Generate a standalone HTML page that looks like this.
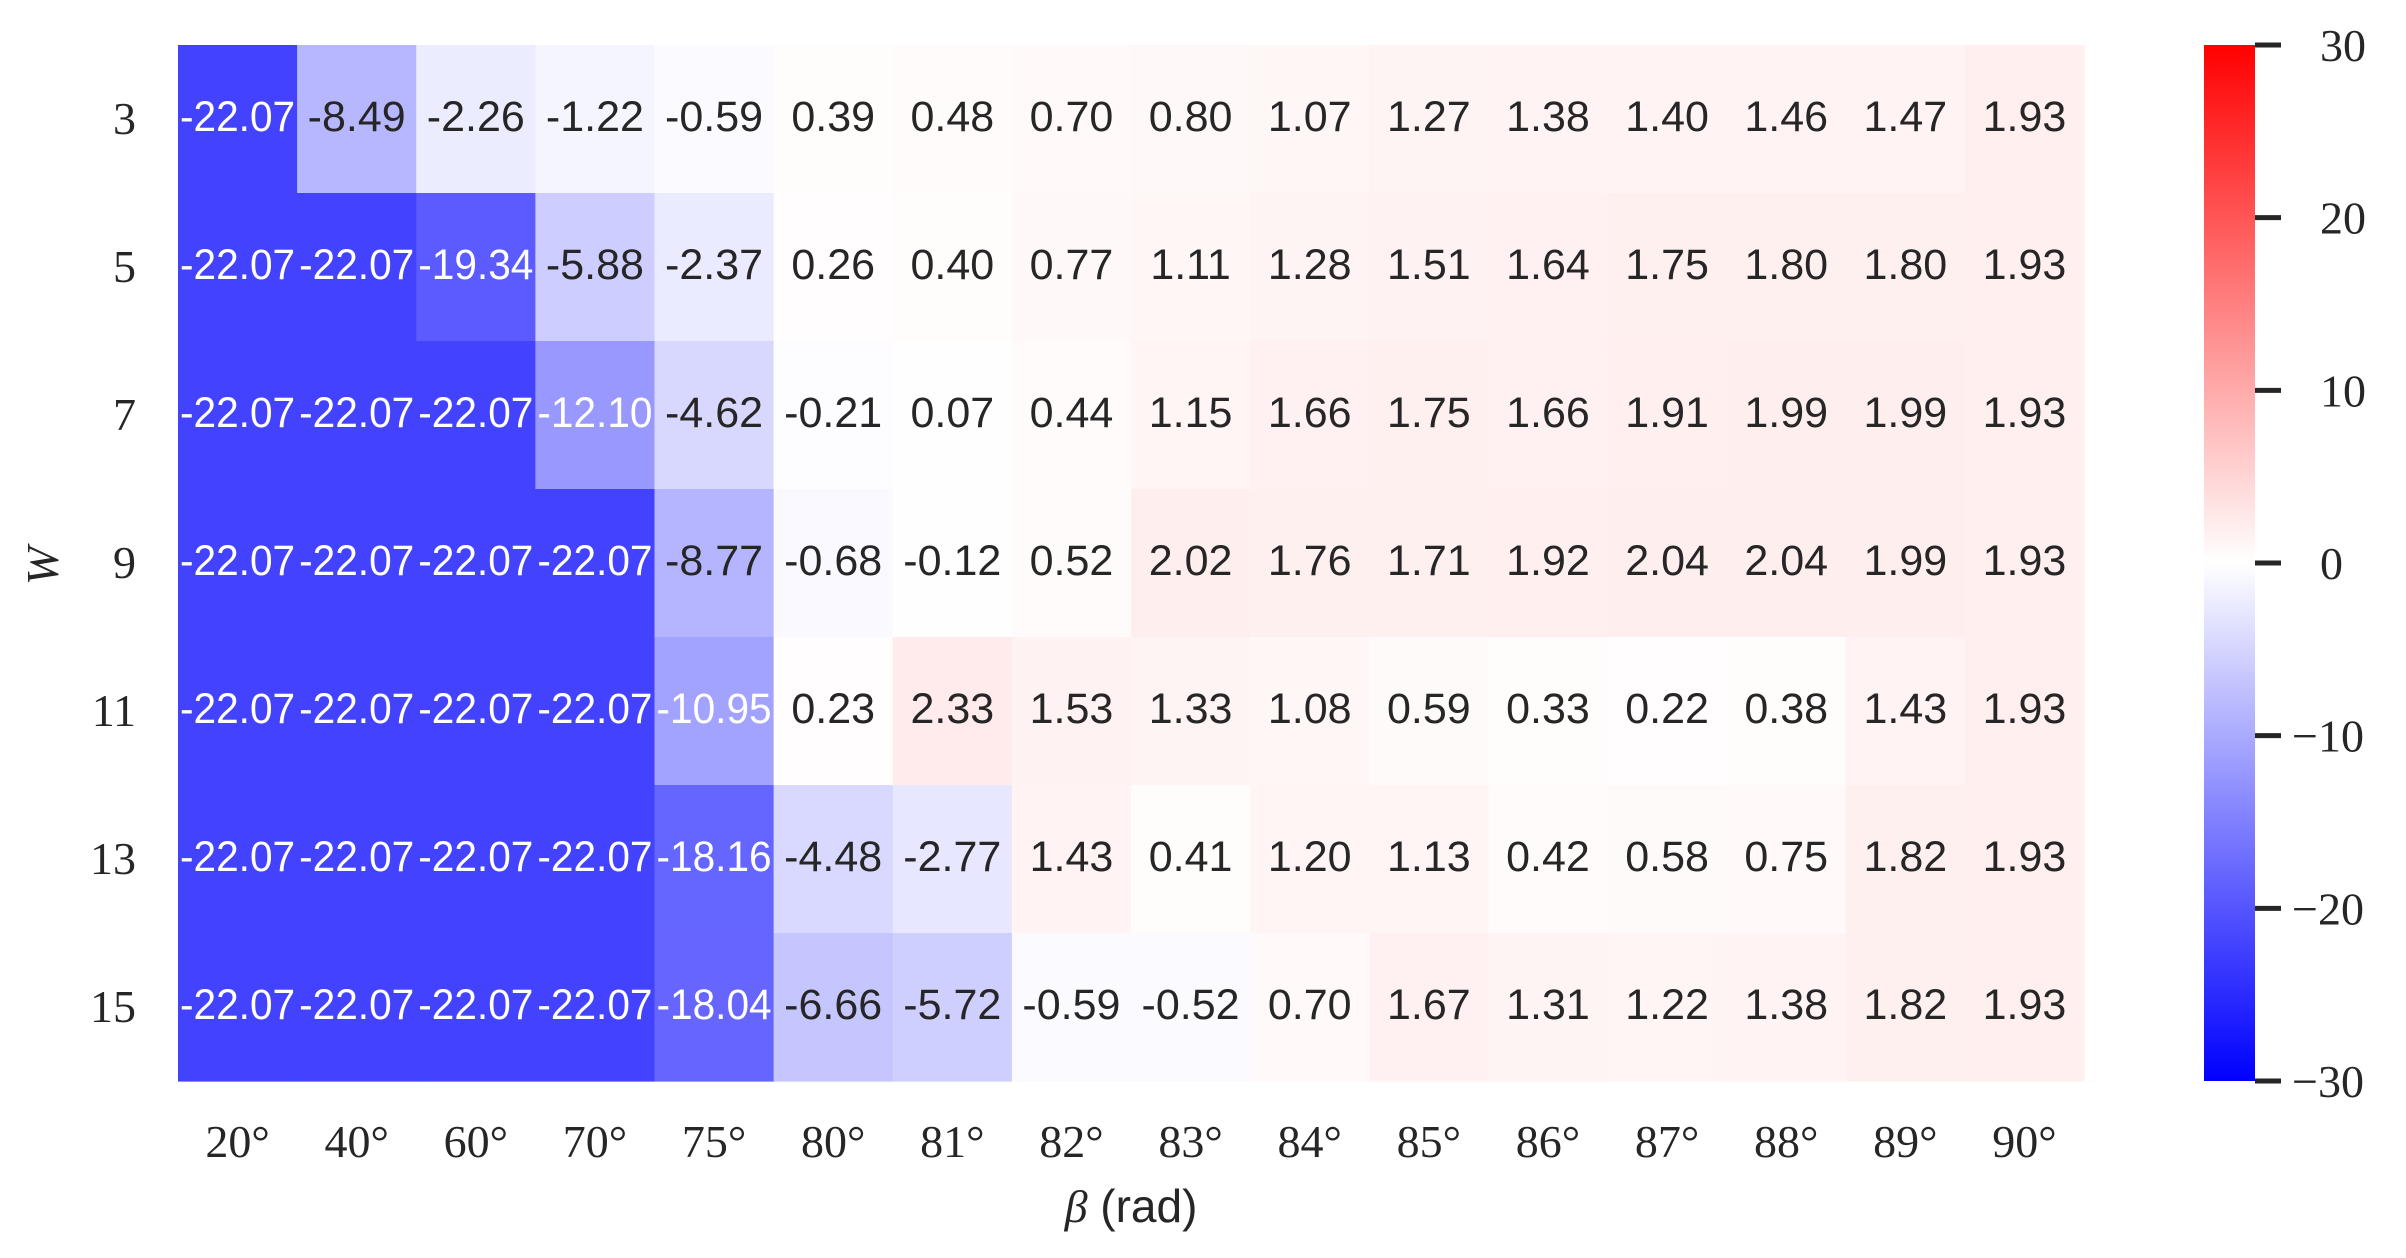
<!DOCTYPE html>
<html><head><meta charset="utf-8"><style>
html,body{margin:0;padding:0;background:#fff;}
svg{display:block;}
.v{font-family:"Liberation Sans",sans-serif;font-size:43px;}
.t{font-family:"Liberation Serif",serif;font-size:46px;fill:#262626;}
</style></head><body>
<svg id="chart" width="2406" height="1258" viewBox="0 0 2406 1258" xmlns="http://www.w3.org/2000/svg">
<defs><linearGradient id="cb" x1="0" y1="1" x2="0" y2="0">
<stop offset="0" stop-color="#0000ff"/><stop offset="0.5" stop-color="#ffffff"/><stop offset="1" stop-color="#ff0000"/>
</linearGradient></defs>
<g id="cells"></g>
<g id="labels"></g>
<rect x="2204" y="45" width="51" height="1036" fill="url(#cb)"/>
<g id="cbticks"></g>
<text x="58" y="566" class="t" font-style="italic" text-anchor="middle" transform="rotate(-90 58 566)">W</text>
<text x="1131" y="1222" class="t" text-anchor="middle"><tspan font-style="italic">β</tspan><tspan font-family="Liberation Sans, sans-serif"> (rad)</tspan></text>
</svg>
<script>
const xCats=["20°","40°","60°","70°","75°","80°","81°","82°","83°","84°","85°","86°","87°","88°","89°","90°"];
const yCats=["3","5","7","9","11","13","15"];
const row3=[-22.07,-8.49,-2.26,-1.22,-0.59,0.39,0.48,0.70,0.80,1.07,1.27,1.38,1.40,1.46,1.47,1.93];
const row5=[-22.07,-22.07,-19.34,-5.88,-2.37,0.26,0.40,0.77,1.11,1.28,1.51,1.64,1.75,1.80,1.80,1.93];
const row7=[-22.07,-22.07,-22.07,-12.10,-4.62,-0.21,0.07,0.44,1.15,1.66,1.75,1.66,1.91,1.99,1.99,1.93];
const row9=[-22.07,-22.07,-22.07,-22.07,-8.77,-0.68,-0.12,0.52,2.02,1.76,1.71,1.92,2.04,2.04,1.99,1.93];
const row11=[-22.07,-22.07,-22.07,-22.07,-10.95,0.23,2.33,1.53,1.33,1.08,0.59,0.33,0.22,0.38,1.43,1.93];
const row13=[-22.07,-22.07,-22.07,-22.07,-18.16,-4.48,-2.77,1.43,0.41,1.20,1.13,0.42,0.58,0.75,1.82,1.93];
const row15=[-22.07,-22.07,-22.07,-22.07,-18.04,-6.66,-5.72,-0.59,-0.52,0.70,1.67,1.31,1.22,1.38,1.82,1.93];
const rows=[row3,row5,row7,row9,row11,row13,row15];
const cbTicks=[30,20,10,0,-10,-20,-30];
const vmin=-30,vmax=30;
const X0=178,X1=2084,Y0=45,Y1=1081;
const cw=(X1-X0)/xCats.length, ch=(Y1-Y0)/yCats.length;
const xPos=i=>X0+i*cw, yPos=j=>Y0+j*ch;
const cbY=v=>Y1-(v-vmin)/(vmax-vmin)*(Y1-Y0);
function color(v){
  let t=(v-vmin)/(vmax-vmin); t=Math.max(0,Math.min(1,t));
  let r,g,b;
  if(t<0.5){const a=t/0.5;r=a;g=a;b=1;}else{const a=2*(1-t);r=1;g=a;b=a;}
  return `rgb(${Math.round(r*255)},${Math.round(g*255)},${Math.round(b*255)})`;
}
const NS="http://www.w3.org/2000/svg";
const cells=document.getElementById('cells'),labels=document.getElementById('labels'),cbt=document.getElementById('cbticks');
rows.forEach((row,j)=>{
  row.forEach((v,i)=>{
    const r=document.createElementNS(NS,'rect');
    r.setAttribute('x',xPos(i));r.setAttribute('y',yPos(j));
    r.setAttribute('width',cw+0.6);r.setAttribute('height',ch+0.6);
    r.setAttribute('fill',color(v));
    
    
    cells.appendChild(r);
    const t=document.createElementNS(NS,'text');
    t.setAttribute('x',xPos(i)+cw/2);t.setAttribute('y',yPos(j)+ch/2+12);
    t.setAttribute('text-anchor','middle');t.setAttribute('class','v');
    const tt=(v-vmin)/(vmax-vmin);
    t.setAttribute('fill',(tt<0.33||tt>0.7)?'#ffffff':'#262626');
    t.textContent=v.toFixed(2);
    if(t.textContent.length>=6){t.setAttribute('textLength',cw-4);t.setAttribute('lengthAdjust','spacingAndGlyphs');}
    
    
    cells.appendChild(t);
  });
});
yCats.forEach((c,j)=>{
  const t=document.createElementNS(NS,'text');
  t.setAttribute('x',136);t.setAttribute('y',yPos(j)+ch/2+15);
  t.setAttribute('text-anchor','end');t.setAttribute('class','t');
  t.textContent=c;
  
  
  labels.appendChild(t);
});
xCats.forEach((c,i)=>{
  const t=document.createElementNS(NS,'text');
  t.setAttribute('x',xPos(i)+cw/2);t.setAttribute('y',1157);
  t.setAttribute('text-anchor','middle');t.setAttribute('class','t');
  t.textContent=c;
  
  
  labels.appendChild(t);
});
cbTicks.forEach(v=>{
  const y=cbY(v);
  const l=document.createElementNS(NS,'line');
  l.setAttribute('x1',2255);l.setAttribute('x2',2281);l.setAttribute('y1',y);l.setAttribute('y2',y);
  l.setAttribute('stroke','#262626');l.setAttribute('stroke-width',5);
  
  
  cbt.appendChild(l);
  const t=document.createElementNS(NS,'text');
  t.setAttribute('x',v<0?2292:2320);t.setAttribute('y',y+16);t.setAttribute('class','t');
  t.textContent=v<0?'−'+Math.abs(v):String(v);
  
  
  cbt.appendChild(t);
});
</script>
</body></html>
